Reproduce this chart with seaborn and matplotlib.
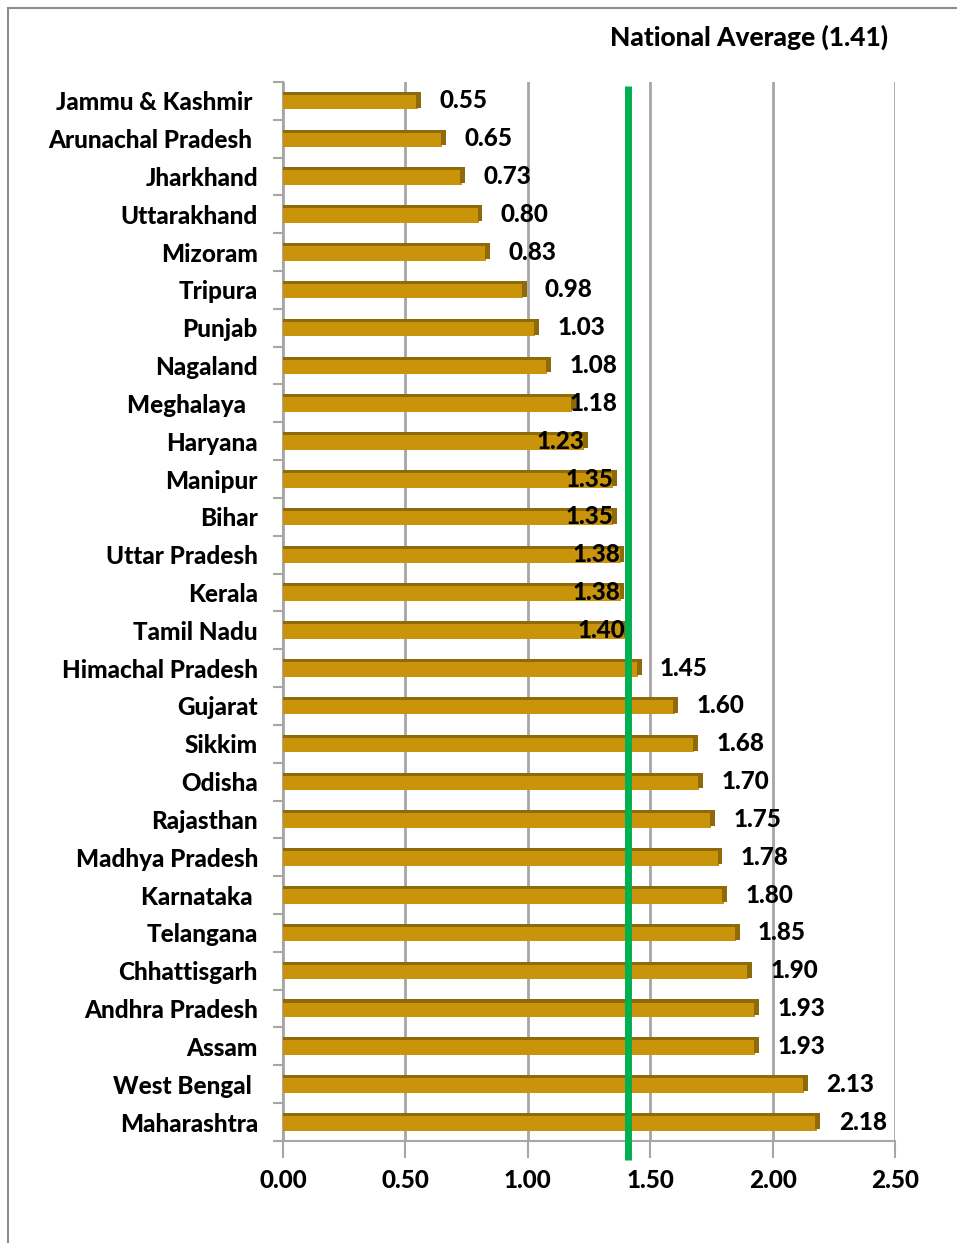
import matplotlib
matplotlib.use("Agg")
import matplotlib.pyplot as plt
import matplotlib.patches as mpatches
import numpy as np
import pandas as pd
import seaborn as sns

states = ["Jammu & Kashmir ", "Arunachal Pradesh ", "Jharkhand", "Uttarakhand", "Mizoram",
          "Tripura", "Punjab", "Nagaland", "Meghalaya  ", "Haryana", "Manipur", "Bihar",
          "Uttar Pradesh", "Kerala", "Tamil Nadu", "Himachal Pradesh", "Gujarat", "Sikkim",
          "Odisha", "Rajasthan", "Madhya Pradesh", "Karnataka ", "Telangana", "Chhattisgarh",
          "Andhra Pradesh", "Assam", "West Bengal ", "Maharashtra"]
scores = [0.55, 0.65, 0.73, 0.80, 0.83, 0.98, 1.03, 1.08, 1.18, 1.23, 1.35, 1.35,
          1.38, 1.38, 1.40, 1.45, 1.60, 1.68, 1.70, 1.75, 1.78, 1.80, 1.85, 1.90,
          1.93, 1.93, 2.13, 2.18]
national_average = 1.41
x_ticks = [0.0, 0.5, 1.0, 1.5, 2.0, 2.5]
avg_label = "National Average (1.41)"

sns.set_theme(style="white")
plt.rcParams["font.family"] = ["Lato", "DejaVu Sans"]

W = "black"  # font weight
FS = 17.5

gold = "#C9930A"
dark = "#8F6A08"
green = "#00B050"
gridc = "#A6A6A6"

df = pd.DataFrame({"state": states, "score": scores})

fig = plt.figure(figsize=(9.57, 12.43), dpi=100)
ax = fig.add_axes([0.2957, 0.0821, 0.6395, 0.852])

sns.barplot(data=df, y="state", x="score", orient="h", color=gold, saturation=1,
            width=0.45, linewidth=0, ax=ax, zorder=3)
n = len(states)
pos = np.arange(n)
# pseudo-3D top strip and end cap
ax.barh(pos - 0.2, df["score"], height=0.08, color=dark, lw=0, zorder=3.5)
ax.barh(pos - 0.03, [0.02] * n, left=df["score"] - 0.005, height=0.42, color=dark,
        lw=0, zorder=3.4)

ax.set_xlim(0, 2.5)
ax.set_ylim(n - 0.5, -0.5)
ax.set_xticks(x_ticks)
ax.set_xticklabels([f"{t:.2f}" for t in x_ticks], fontsize=FS, fontweight=W, color="black")
ax.set_yticks(pos)
ax.set_yticklabels(states, fontsize=FS, fontweight=W, color="black")
ax.set_yticks(np.arange(n + 1) - 0.5, minor=True)
ax.tick_params(axis="y", which="major", length=0, pad=18)
ax.tick_params(axis="y", which="minor", length=7, color=gridc, width=1.5, left=True)
ax.tick_params(axis="x", which="major", length=12, color=gridc, width=1.5, bottom=True, pad=8)
ax.set_xlabel("")
ax.set_ylabel("")

ax.grid(axis="x", color=gridc, lw=2)
ax.grid(axis="y", visible=False)
ax.set_axisbelow(True)
for s in ["top", "right"]:
    ax.spines[s].set_visible(False)
for s in ["left", "bottom"]:
    ax.spines[s].set_color(gridc)
    ax.spines[s].set_linewidth(1.5)

# national average line
ax.plot([national_average, national_average], [-0.4, n], color=green, lw=5,
        clip_on=False, zorder=6, solid_capstyle="butt")

# value labels
for i, v in enumerate(scores):
    if 1.2 <= v < national_average:
        ax.text(v, i, f"{v:.2f}", ha="right", va="center", fontsize=FS,
                fontweight=W, color="black", zorder=7)
    elif 1.15 <= v < 1.2:
        ax.text(v - 0.01, i, f"{v:.2f}", ha="left", va="center", fontsize=FS,
                fontweight=W, color="black", zorder=7)
    else:
        ax.text(v + 0.09, i, f"{v:.2f}", ha="left", va="center", fontsize=FS,
                fontweight=W, color="black", zorder=7)

fig.text(888 / 957, 1 - 37 / 1243, avg_label, ha="right", va="center",
         fontsize=19, fontweight=W, color="black")

# outer frame
fig.patches.append(mpatches.Rectangle((8 / 957, -0.01), 1.0, 1 - 8 / 1243 + 0.01,
                                      transform=fig.transFigure, fill=False,
                                      edgecolor="#8C8C8C", lw=1.5))

fig.savefig("out.png", dpi=100)
